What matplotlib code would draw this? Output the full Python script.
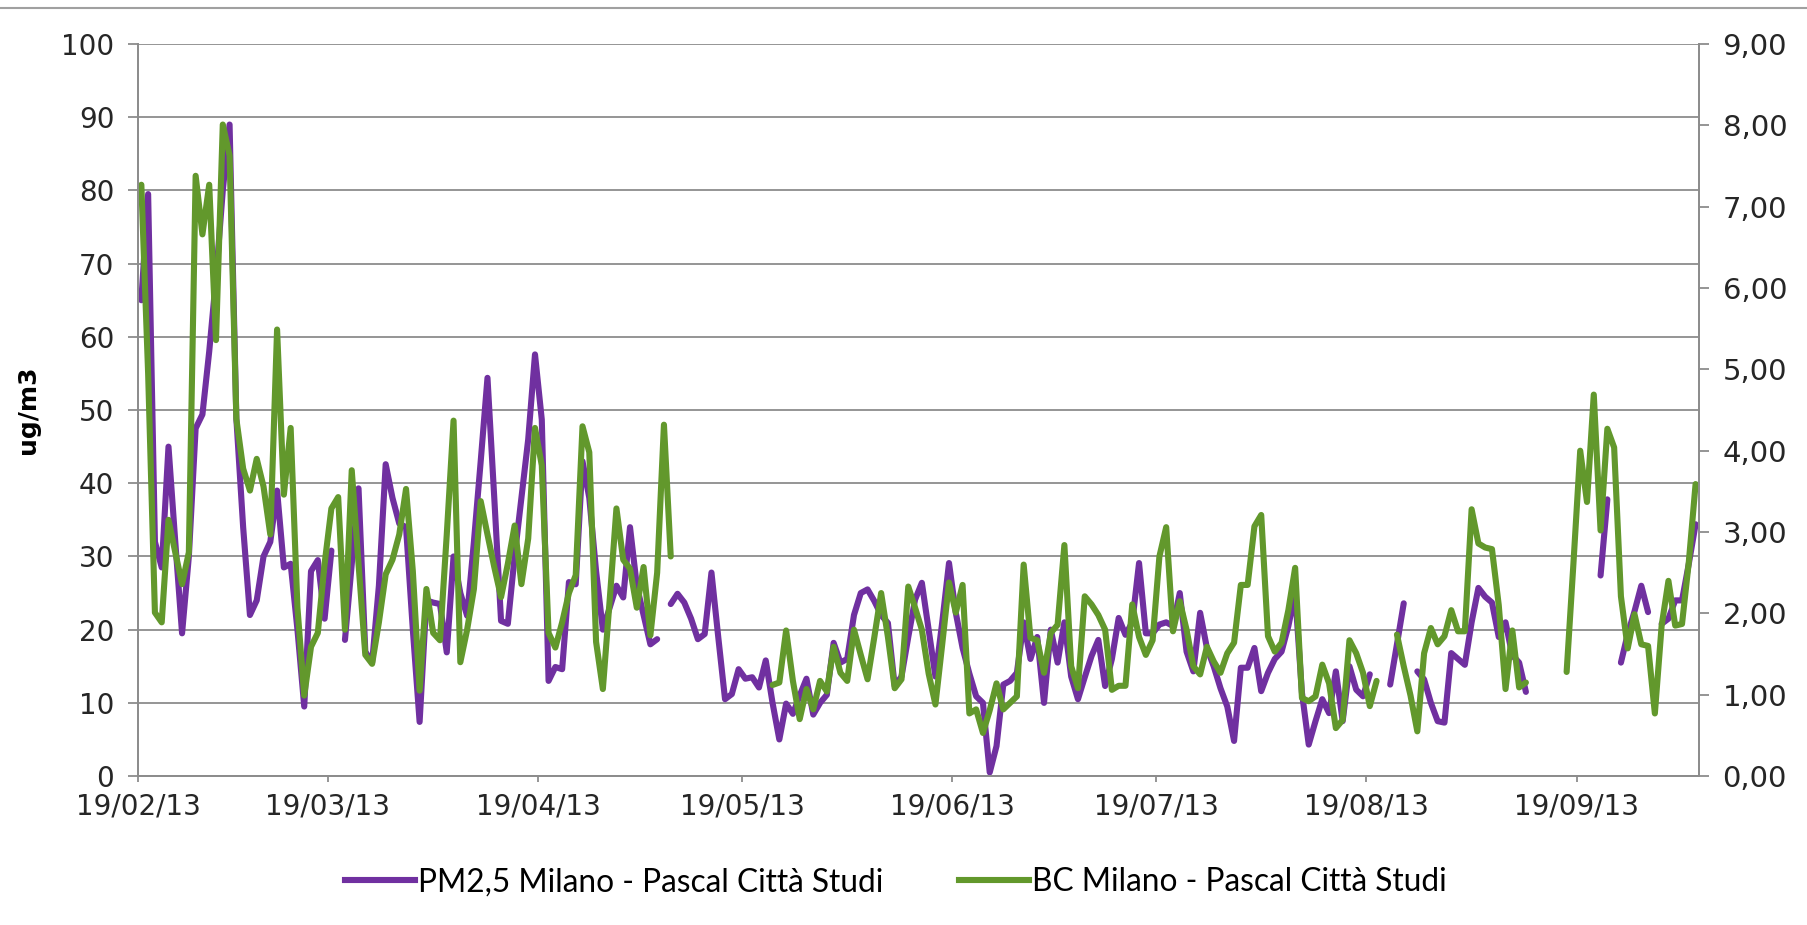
import numpy as np
import pandas as pd
import matplotlib
matplotlib.use("Agg")
import matplotlib.pyplot as plt
import matplotlib.dates as mdates
from matplotlib.lines import Line2D

nan = np.nan

# daily values, first day 19/02/2013
start_date = "2013-02-19"

# PM2,5 Milano - Pascal Citta Studi (ug/m3, left axis)
pm25 = [
    65, 79.5, 32, 28.5, 45, 32, 19.5, 30, 47.5, 49.4,            # d0-9
    58, 68, 80, 89, 48.8, 34, 22, 24, 30, 32,                   # d10-19
    39, 28.5, 29, 20, 9.5, 28, 29.5, 21.5, 30.8, nan,           # d20-29
    18.6, 29, 39.3, 17, 15.5, 26, 42.6, 38, 34.5, 34,           # d30-39
    20, 7.4, 24, 23.7, 23.5, 16.9, 30, 25, 21.9, 32,            # d40-49
    43, 54.4, 38, 21.2, 20.8, 30, 38, 46, 57.6, 48.7,           # d50-59
    13, 14.9, 14.6, 26.5, 26.2, 43, 38, 28, 20, 23,             # d60-69
    26, 24.4, 34, 26, 22, 18, 18.7, nan, 23.5, 24.9,            # d70-79
    23.7, 21.5, 18.7, 19.4, 27.8, 19, 10.5, 11.2, 14.6, 13.3,   # d80-89
    13.5, 12.1, 15.8, 10, 5, 9.9, 8.5, 11, 13.3, 8.4,           # d90-99
    10, 11.1, 18.2, 15.5, 16, 22, 25, 25.5, 23.9, 22,           # d100-109
    20.9, 12.3, 13.6, 19, 24.1, 26.4, 20, 13.6, 21, 29.1,       # d110-119
    22.3, 17.5, 14, 10.9, 10, 0.5, 4.1, 12.5, 13, 14.1,         # d120-129
    21, 16, 19, 10, 20, 15.5, 21, 13.6, 10.5, 13.5,             # d130-139
    16.4, 18.6, 12.3, 16, 21.6, 19.3, 21, 29.1, 19.5, 19.5,     # d140-149
    20.7, 21, 20.5, 25, 17, 14.3, 22.3, 17.5, 15, 12,           # d150-159
    9.5, 4.8, 14.8, 14.8, 17.5, 11.6, 14.1, 16, 17, 20.5,       # d160-169
    25, 11.4, 4.3, 7.5, 10.5, 8.6, 14.3, 7.5, 15, 11.8,         # d170-179
    10.9, 13.9, nan, nan, 12.5, 18, 23.6, nan, 14.3, 13.2,      # d180-189
    10, 7.5, 7.3, 16.8, 16, 15.2, 21, 25.7, 24.5, 23.7,         # d190-199
    19, 21, 16.5, 15.5, 11.5, nan, nan, nan, nan, nan,          # d200-209
    nan, nan, nan, nan, nan, 27.4, 37.8, nan, 15.5, 19.4,       # d210-219
    22.5, 26, 22.4, nan, 20.8, 21.5, 24, 24, 29, 34.4,          # d220-229
]

# BC Milano - Pascal Citta Studi (right axis)
bc = [
    7.27, 4.95, 2.01, 1.89, 3.15, 2.75, 2.36, 2.75, 7.38, 6.66,  # d0-9
    7.27, 5.36, 8.01, 7.63, 4.39, 3.78, 3.51, 3.90, 3.56, 2.97,  # d10-19
    5.49, 3.46, 4.28, 2.07, 0.99, 1.59, 1.76, 2.61, 3.29, 3.43,  # d20-29
    1.80, 3.76, 2.61, 1.49, 1.38, 1.89, 2.48, 2.66, 2.97, 3.53,  # d30-39
    2.52, 1.05, 2.30, 1.76, 1.67, 2.97, 4.37, 1.40, 1.80, 2.30,  # d40-49
    3.38, 2.97, 2.57, 2.20, 2.61, 3.08, 2.36, 2.92, 4.28, 3.82,  # d50-59
    1.76, 1.58, 1.89, 2.25, 2.47, 4.30, 3.98, 1.65, 1.07, 2.16,  # d60-69
    3.29, 2.66, 2.55, 2.07, 2.57, 1.73, 2.50, 4.32, 2.70, nan,   # d70-79
    nan, nan, nan, nan, nan, nan, nan, nan, nan, nan,            # d80-89
    nan, nan, nan, 1.12, 1.15, 1.79, 1.17, 0.70, 1.07, 0.82,     # d90-99
    1.17, 1.04, 1.59, 1.27, 1.17, 1.80, 1.49, 1.19, 1.71, 2.25,  # d100-109
    1.71, 1.08, 1.19, 2.33, 2.07, 1.80, 1.26, 0.88, 1.62, 2.38,  # d110-119
    2.01, 2.35, 0.77, 0.82, 0.53, 0.81, 1.14, 0.82, 0.90, 0.98,  # d120-129
    2.60, 1.70, 1.67, 1.27, 1.76, 1.86, 2.84, 1.35, 1.08, 2.21,  # d130-139
    2.11, 1.98, 1.80, 1.06, 1.11, 1.11, 2.11, 1.71, 1.49, 1.67,  # d140-149
    2.70, 3.06, 1.78, 2.15, 1.80, 1.35, 1.25, 1.59, 1.41, 1.27,  # d150-159
    1.51, 1.64, 2.35, 2.35, 3.07, 3.21, 1.72, 1.53, 1.64, 2.04,  # d160-169
    2.56, 0.96, 0.92, 0.98, 1.37, 1.14, 0.59, 0.69, 1.67, 1.51,  # d170-179
    1.27, 0.86, 1.17, nan, nan, 1.74, 1.35, 0.99, 0.55, 1.51,    # d180-189
    1.82, 1.62, 1.72, 2.04, 1.78, 1.78, 3.28, 2.86, 2.81, 2.79,  # d190-199
    2.10, 1.07, 1.79, 1.09, 1.15, nan, nan, nan, nan, nan,       # d200-209
    1.28, 2.61, 4.00, 3.37, 4.69, 3.02, 4.27, 4.04, 2.21, 1.57,  # d210-219
    1.99, 1.62, 1.60, 0.77, 1.85, 2.40, 1.85, 1.87, 2.63, 3.59,  # d220-229
]

label_pm = "PM2,5 Milano - Pascal Città Studi"
label_bc = "BC Milano - Pascal Città Studi"
left_ticks = [0, 10, 20, 30, 40, 50, 60, 70, 80, 90, 100]
right_ticks = [0, 1, 2, 3, 4, 5, 6, 7, 8, 9]

n = len(pm25)
days = pd.date_range(start_date, periods=n) + pd.Timedelta(hours=12)
x_end = pd.Timestamp(start_date) + pd.Timedelta(days=n)

purple = "#7030A0"
green = "#62982C"
grid_c = "#8C8C8C"
txt_c = "#262626"
lw = 4.4

fig = plt.figure(figsize=(18.08, 9.25), dpi=100)
ax = fig.add_axes([0.0763, 0.161, 0.8634, 0.7914])
ax2 = ax.twinx()

ax.plot(days, pm25, color=purple, lw=lw, solid_joinstyle="round",
        solid_capstyle="round", label=label_pm)
ax2.plot(days, bc, color=green, lw=lw, solid_joinstyle="round",
         solid_capstyle="round", label=label_bc)

ax.set_ylim(0, 100)
ax2.set_ylim(0, 9)
ax.set_xlim(pd.Timestamp(start_date), x_end)
ax.set_yticks(left_ticks)
ax2.set_yticks(right_ticks)
ax2.set_yticklabels([f"{v:.2f}".replace(".", ",") for v in right_ticks])

ax.xaxis.set_major_locator(mdates.MonthLocator(bymonthday=19))
ax.xaxis.set_major_formatter(mdates.DateFormatter("%d/%m/%y"))

ax.grid(axis="y", color=grid_c, lw=1.3)
ax.set_axisbelow(True)

for a in (ax, ax2):
    a.spines["top"].set_visible(False)
    for s in ("left", "right", "bottom"):
        a.spines[s].set_color(grid_c)
        a.spines[s].set_linewidth(1.3)
ax.tick_params(axis="y", colors=grid_c, length=7, width=1.3, direction="out",
               labelsize=20, labelcolor=txt_c, pad=10)
ax.tick_params(axis="x", colors=grid_c, length=4, width=1.3, direction="out",
               labelsize=20, labelcolor=txt_c, pad=8)
ax2.tick_params(axis="y", colors=grid_c, length=7, width=1.3, direction="out",
                labelsize=21, labelcolor=txt_c, pad=10)

ax.set_ylabel("ug/m3", fontsize=18, fontweight="bold", color="black")
ax.yaxis.set_label_coords(-0.063, 0.5)

handles = [Line2D([], [], color=purple, lw=lw), Line2D([], [], color=green, lw=lw)]
fig.legend(handles, [label_pm, label_bc], loc="center", bbox_to_anchor=(0.4955, 0.046),
           ncol=2, frameon=False, handlelength=2.2, handletextpad=0.1,
           columnspacing=2.4,
           prop={"family": ["Lato", "DejaVu Sans"], "size": 22.8})

fig.add_artist(Line2D([0, 1], [0.991, 0.991], color="#A0A0A0", lw=1.5,
                      transform=fig.transFigure))

fig.savefig("out.png", dpi=100)
